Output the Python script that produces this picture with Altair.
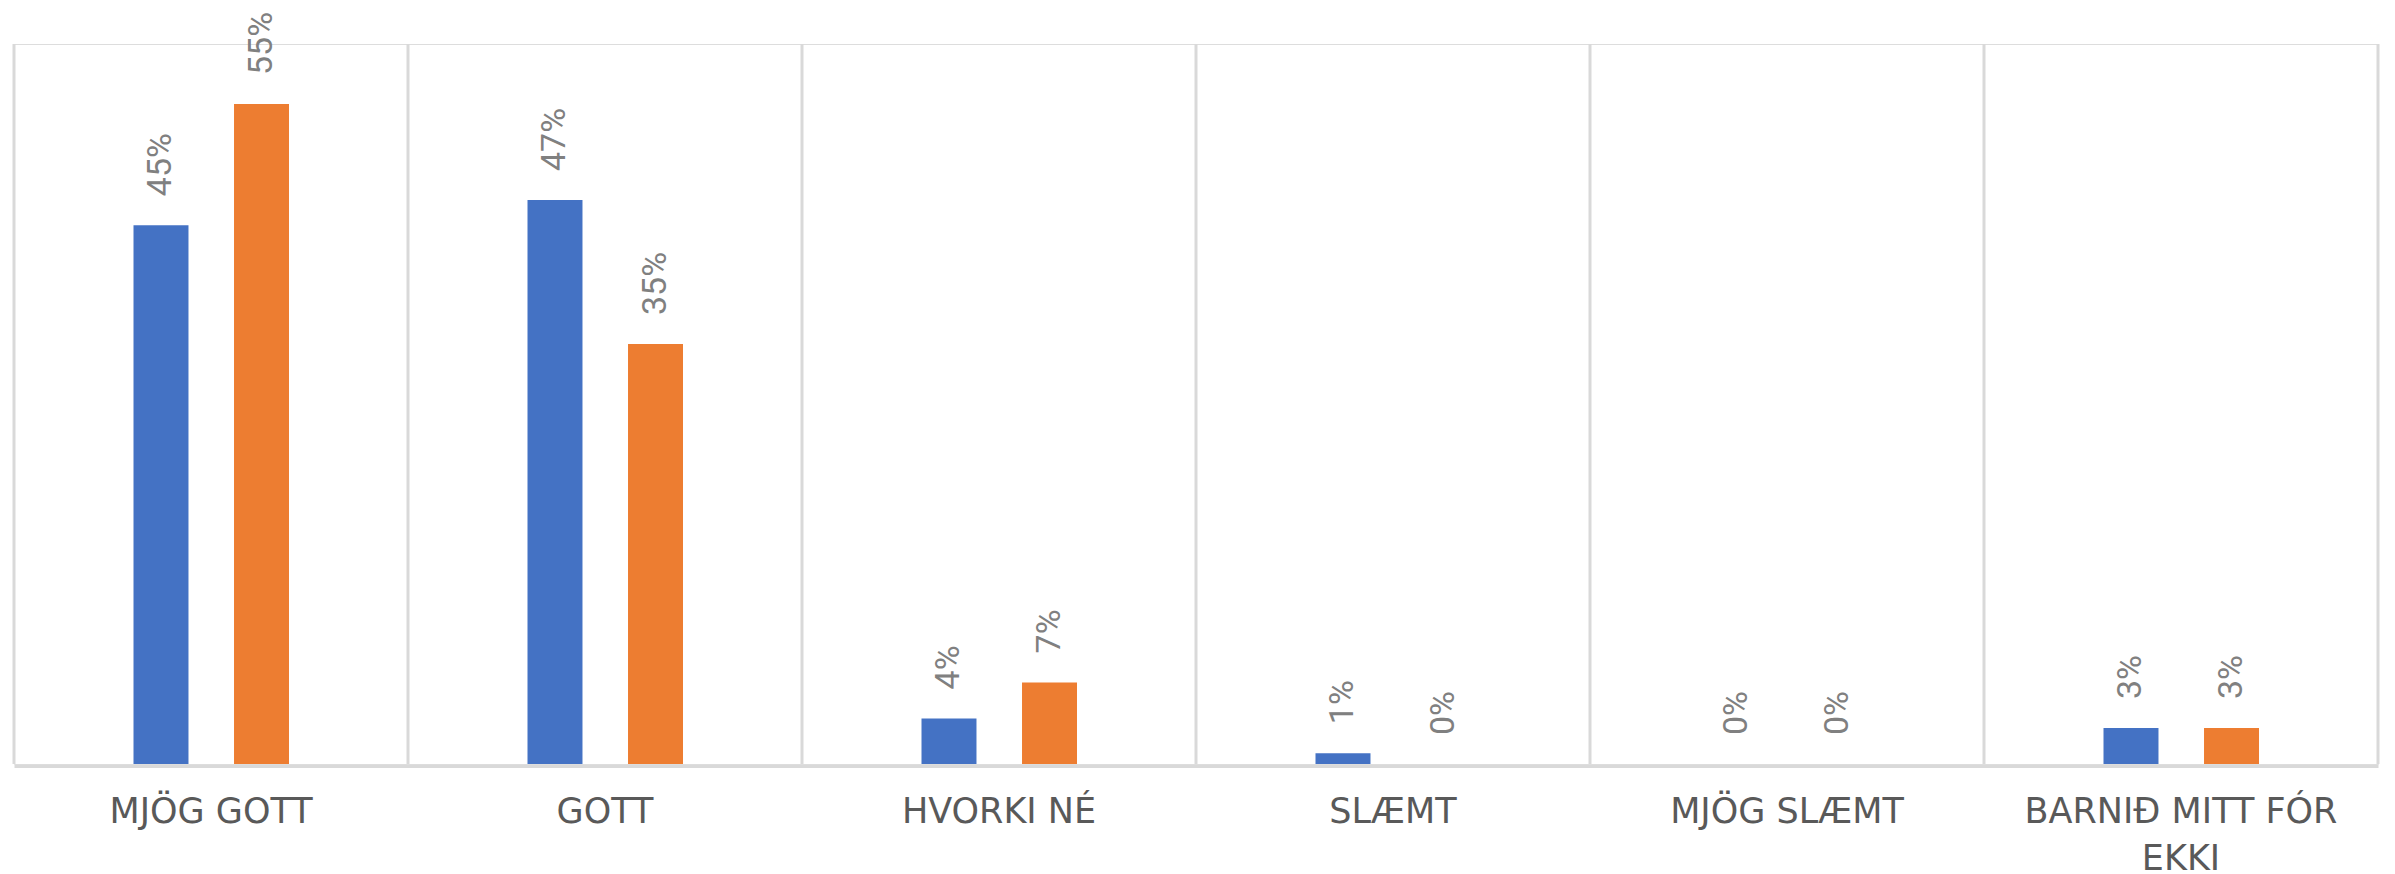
import altair as alt
import pandas as pd

categories = ["MJÖG GOTT", "GOTT", "HVORKI NÉ", "SLÆMT", "MJÖG SLÆMT", "BARNIÐ MITT FÓR EKKI"]
series_names = ["Röð 1", "Röð 2"]
series_1 = [0.449, 0.47, 0.038, 0.009, 0.0, 0.03]
series_2 = [0.55, 0.35, 0.068, 0.0, 0.0, 0.03]
colors = ["#4472C4", "#ED7D31"]

rows = []
for i, c in enumerate(categories):
    rows.append({"cat": c, "series": series_names[0], "value": series_1[i]})
    rows.append({"cat": c, "series": series_names[1], "value": series_2[i]})
df = pd.DataFrame(rows)
cat_df = pd.DataFrame({"cat": categories})
last_df = pd.DataFrame({"cat": categories[-1:]})

W, H = 2364, 720
GRID = "#d9d9d9"

x_scale = alt.Scale(paddingInner=0, paddingOuter=0)
x_axis = alt.Axis(
    title=None,
    grid=False,
    ticks=False,
    tickSize=0,
    bandPosition=0.5,
    domainColor=GRID,
    domainWidth=3,
    offset=2,
    labelAngle=0,
    labelAlign="center",
    labelLimit=0,
    labelOverlap=False,
    labelFont="DejaVu Sans",
    labelFontSize=35,
    labelColor="#595959",
    labelPadding=28,
    labelBaseline="top",
    labelLineHeight=47,
    labelExpr="datum.label == 'BARNIÐ MITT FÓR EKKI' ? ['BARNIÐ MITT FÓR', 'EKKI'] : datum.label",
)


def xe(**kw):
    return alt.X("cat:N", sort=categories, scale=x_scale, axis=x_axis, **kw)


xoff = alt.XOffset("series:N", sort=series_names,
                   scale=alt.Scale(range=[119.5, 275], paddingInner=0.453, paddingOuter=0))
y_enc = alt.Y("value:Q", scale=alt.Scale(domain=[0, 0.6], nice=False), axis=None)

grid_rules = alt.Chart(cat_df).mark_rule(color=GRID, strokeWidth=3).encode(
    x=xe(bandPosition=0)
)
end_rule = alt.Chart(last_df).mark_rule(color=GRID, strokeWidth=3).encode(
    x=xe(bandPosition=1)
)

bars = alt.Chart(df).mark_bar().encode(
    x=xe(),
    xOffset=xoff,
    y=y_enc,
    color=alt.Color("series:N", sort=series_names,
                    scale=alt.Scale(domain=series_names, range=colors), legend=None),
)
labels = alt.Chart(df).mark_text(
    angle=270, align="left", baseline="middle", dx=29,
    font="Roboto", fontSize=34, color="#808080",
).encode(
    x=xe(),
    xOffset=xoff,
    y=y_enc,
    text=alt.Text("value:Q", format=".0%"),
)

chart = alt.layer(bars, grid_rules, end_rule, labels).properties(
    width=W, height=H,
    autosize=alt.AutoSizeParams(type="none"),
    padding={"left": 6, "top": 36, "right": 9, "bottom": 110},
).configure_view(stroke=None).configure(background="white")

chart.save("out.html", embed_options={"renderer": "svg", "actions": False})
